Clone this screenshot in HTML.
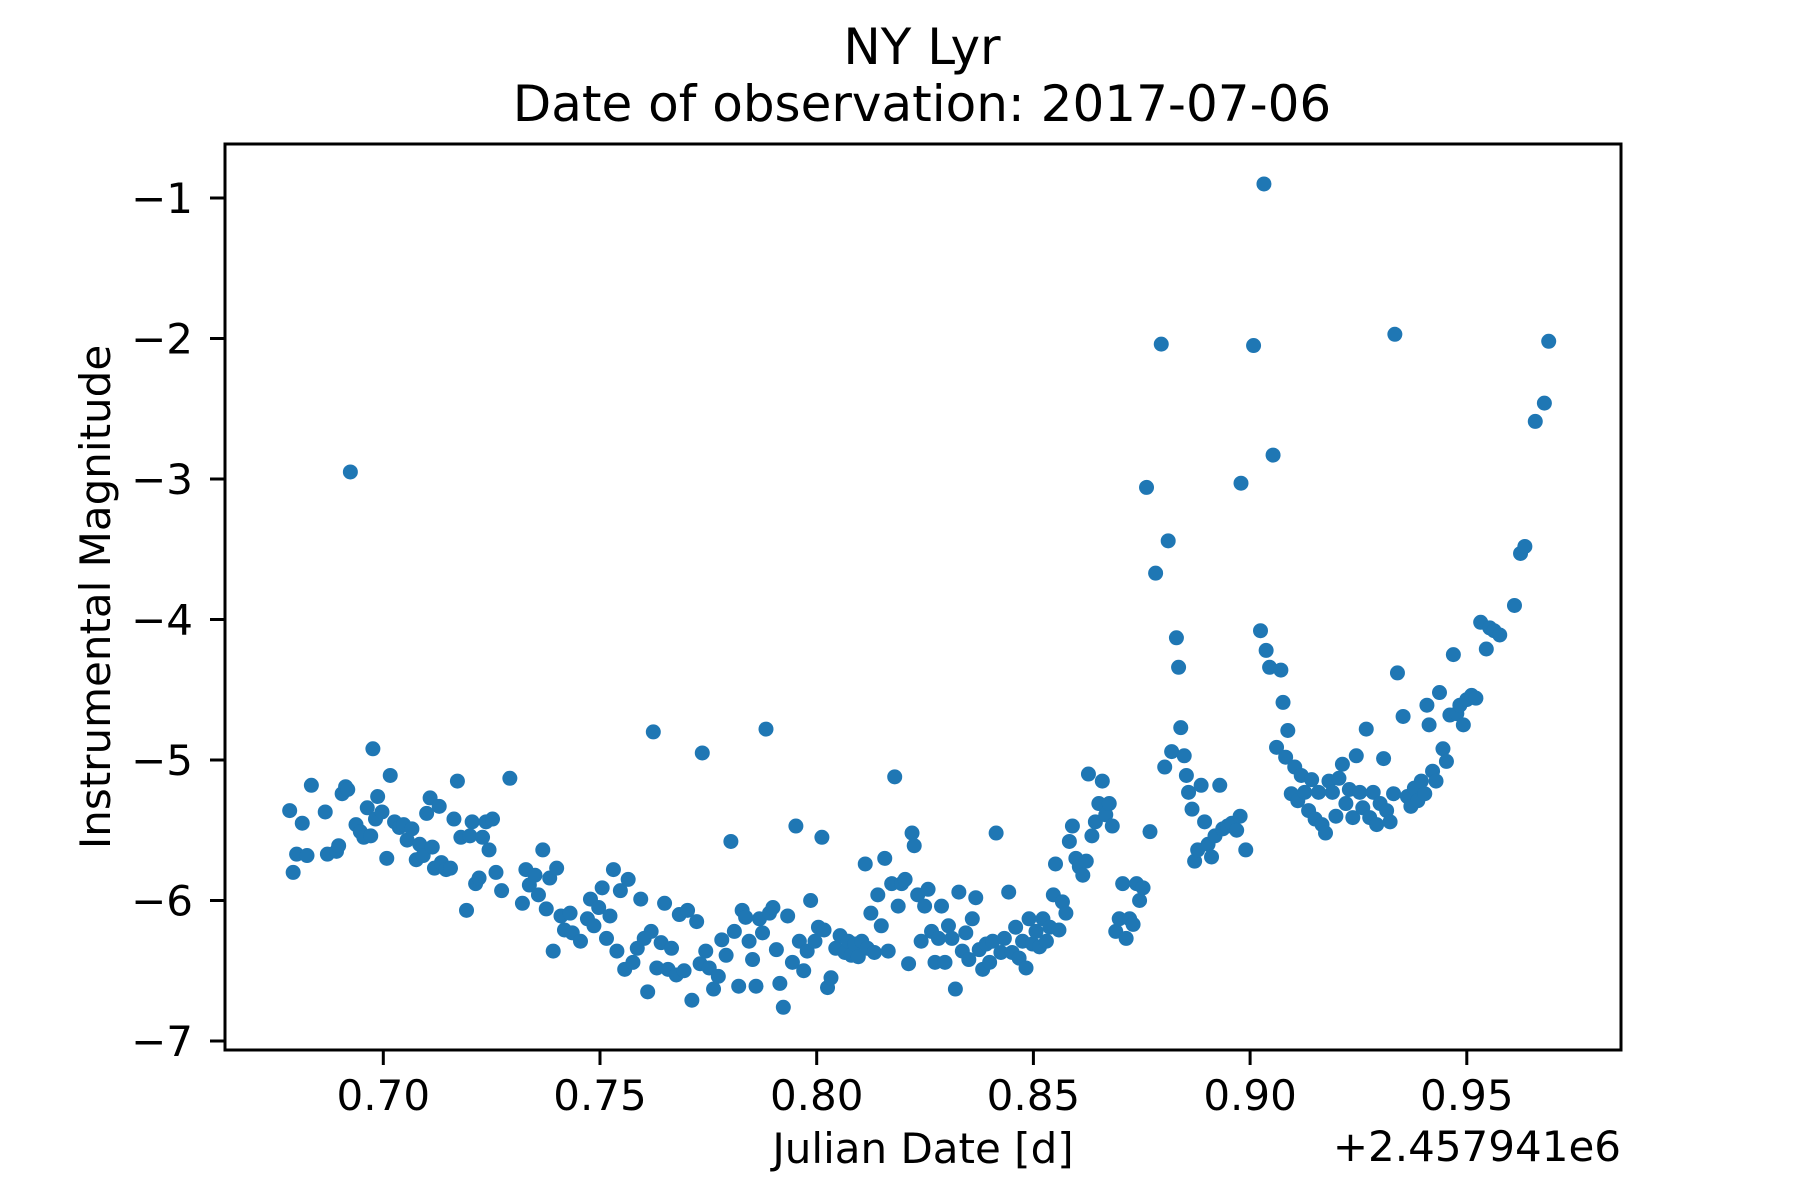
<!DOCTYPE html>
<html><head><meta charset="utf-8"><style>
html,body{margin:0;padding:0;background:#fff}
svg{display:block;font-family:"DejaVu Sans","Liberation Sans",sans-serif}
</style></head><body>
<svg id="chart" width="1800" height="1200" viewBox="0 0 1800 1200">
<rect width="1800" height="1200" fill="#fff"/>
<text x="922" y="64" font-size="50" text-anchor="middle">NY Lyr</text>
<text x="922" y="121" font-size="50" text-anchor="middle">Date of observation: 2017-07-06</text>
<g id="points"></g>
<g id="axes"></g>
<rect x="225" y="144" width="1396" height="906" fill="none" stroke="#000" stroke-width="3"/>
<text x="923" y="1163" font-size="42" text-anchor="middle">Julian Date [d]</text>
<text x="1621" y="1161" font-size="42" text-anchor="end">+2.457941e6</text>
<text transform="translate(110,597) rotate(-90)" font-size="42" text-anchor="middle">Instrumental Magnitude</text>
</svg>
<script>
const xTicks=[0.70,0.75,0.80,0.85,0.90,0.95];
const xTickLabels=["0.70","0.75","0.80","0.85","0.90","0.95"];
const yTicks=[-1,-2,-3,-4,-5,-6,-7];
const yTickLabels=["\u22121","\u22122","\u22123","\u22124","\u22125","\u22126","\u22127"];
const jd=[0.6784,0.6792,0.680,0.6813,0.6824,0.6834,0.6866,0.6871,0.6892,0.6897,0.6905,0.6913,0.6918,0.6924,0.6937,0.6947,0.6955,0.6963,0.6971,0.6976,0.6982,0.6987,0.6997,0.7008,0.7016,0.7026,0.7037,0.7047,0.7055,0.7066,0.7076,0.7084,0.7092,0.7100,0.7108,0.7113,0.7118,0.7129,0.7134,0.7145,0.7155,0.7163,0.7171,0.7179,0.7192,0.7200,0.7205,0.7213,0.7221,0.7229,0.7237,0.7244,0.7252,0.7260,0.7273,0.7292,0.7321,0.7329,0.7337,0.7350,0.7358,0.7368,0.7376,0.7384,0.7392,0.7400,0.7410,0.7418,0.7431,0.7436,0.7455,0.7471,0.7478,0.7486,0.7497,0.7505,0.7515,0.7523,0.7531,0.7539,0.7547,0.7557,0.7565,0.7576,0.7586,0.7594,0.7602,0.7610,0.7618,0.7623,0.7631,0.7641,0.7649,0.7657,0.7665,0.7676,0.7683,0.7694,0.7702,0.7712,0.7723,0.7731,0.7736,0.7744,0.7752,0.7762,0.7773,0.7781,0.7791,0.7802,0.7810,0.7820,0.7828,0.7836,0.7844,0.7852,0.7860,0.7868,0.7875,0.7883,0.7891,0.7899,0.7907,0.7915,0.7923,0.7933,0.7944,0.7952,0.7960,0.7970,0.7978,0.7986,0.7996,0.8004,0.8012,0.8017,0.8025,0.8033,0.8044,0.8054,0.8065,0.8073,0.8080,0.8088,0.8096,0.8104,0.8112,0.8117,0.8125,0.8133,0.8141,0.8149,0.8157,0.8165,0.8173,0.8180,0.8188,0.8196,0.8204,0.8212,0.8220,0.8225,0.8233,0.8241,0.8249,0.8257,0.8265,0.8273,0.8281,0.8288,0.8296,0.8304,0.8312,0.8320,0.8328,0.8336,0.8344,0.8351,0.8359,0.8367,0.8375,0.8383,0.8391,0.8399,0.8406,0.8414,0.8425,0.8433,0.8443,0.8451,0.8459,0.8467,0.8475,0.8483,0.8490,0.8498,0.8506,0.8514,0.8522,0.8530,0.8538,0.8546,0.8551,0.8559,0.8567,0.8575,0.8583,0.8590,0.8598,0.8606,0.8614,0.8622,0.8627,0.8635,0.8643,0.8651,0.8659,0.8667,0.8675,0.8682,0.8690,0.8698,0.8706,0.8714,0.8722,0.8730,0.8738,0.8745,0.8753,0.8761,0.8769,0.8782,0.8795,0.8803,0.8811,0.8819,0.8830,0.8835,0.8840,0.8848,0.8853,0.8858,0.8866,0.8872,0.8879,0.8887,0.8895,0.8903,0.8911,0.8919,0.8930,0.8937,0.8948,0.8958,0.8969,0.8977,0.8979,0.8990,0.9008,0.9024,0.9032,0.9037,0.9045,0.9053,0.9061,0.9071,0.9076,0.9082,0.9087,0.9095,0.9103,0.9110,0.9118,0.9126,0.9135,0.9142,0.9150,0.9158,0.9166,0.9174,0.9182,0.9190,0.9198,0.9205,0.9213,0.9221,0.9229,0.9237,0.9245,0.9253,0.9260,0.9268,0.9276,0.9284,0.9292,0.9300,0.9308,0.9315,0.9323,0.9331,0.9334,0.9340,0.9353,0.9363,0.9371,0.9379,0.9387,0.9395,0.9403,0.9408,0.9413,0.9421,0.9429,0.9437,0.9445,0.9453,0.9461,0.9469,0.9477,0.9484,0.9492,0.9500,0.9511,0.9521,0.9532,0.9545,0.9553,0.9563,0.9576,0.9610,0.9624,0.9634,0.9658,0.9679,0.9689];
const mag=[-5.36,-5.80,-5.67,-5.45,-5.68,-5.18,-5.37,-5.67,-5.65,-5.61,-5.24,-5.19,-5.21,-2.95,-5.46,-5.51,-5.55,-5.34,-5.54,-4.92,-5.42,-5.26,-5.37,-5.70,-5.11,-5.44,-5.48,-5.46,-5.57,-5.49,-5.71,-5.60,-5.68,-5.38,-5.27,-5.62,-5.77,-5.33,-5.73,-5.78,-5.77,-5.42,-5.15,-5.55,-6.07,-5.54,-5.44,-5.88,-5.84,-5.55,-5.44,-5.64,-5.42,-5.80,-5.93,-5.13,-6.02,-5.78,-5.89,-5.82,-5.96,-5.64,-6.06,-5.84,-6.36,-5.77,-6.11,-6.21,-6.09,-6.23,-6.29,-6.13,-5.99,-6.18,-6.05,-5.91,-6.27,-6.11,-5.78,-6.36,-5.93,-6.49,-5.85,-6.44,-6.34,-5.99,-6.27,-6.65,-6.22,-4.80,-6.48,-6.30,-6.02,-6.49,-6.34,-6.53,-6.10,-6.50,-6.07,-6.71,-6.15,-6.45,-4.95,-6.36,-6.48,-6.63,-6.54,-6.28,-6.39,-5.58,-6.22,-6.61,-6.07,-6.12,-6.29,-6.42,-6.61,-6.13,-6.23,-4.78,-6.09,-6.05,-6.35,-6.59,-6.76,-6.11,-6.44,-5.47,-6.29,-6.50,-6.36,-6.00,-6.29,-6.19,-5.55,-6.21,-6.62,-6.55,-6.34,-6.25,-6.37,-6.29,-6.39,-6.31,-6.40,-6.29,-5.74,-6.34,-6.09,-6.37,-5.96,-6.18,-5.70,-6.36,-5.88,-5.12,-6.04,-5.88,-5.85,-6.45,-5.52,-5.61,-5.96,-6.29,-6.04,-5.92,-6.22,-6.44,-6.27,-6.04,-6.44,-6.18,-6.27,-6.63,-5.94,-6.36,-6.23,-6.42,-6.13,-5.98,-6.35,-6.49,-6.31,-6.44,-6.29,-5.52,-6.37,-6.27,-5.94,-6.37,-6.19,-6.41,-6.29,-6.48,-6.13,-6.31,-6.22,-6.33,-6.13,-6.29,-6.19,-5.96,-5.74,-6.21,-6.01,-6.09,-5.58,-5.47,-5.70,-5.76,-5.82,-5.72,-5.10,-5.54,-5.44,-5.31,-5.15,-5.39,-5.31,-5.47,-6.22,-6.13,-5.88,-6.27,-6.13,-6.17,-5.88,-6.00,-5.91,-3.06,-5.51,-3.67,-2.04,-5.05,-3.44,-4.94,-4.13,-4.34,-4.77,-4.97,-5.11,-5.23,-5.35,-5.72,-5.64,-5.18,-5.44,-5.60,-5.69,-5.54,-5.18,-5.49,-5.47,-5.45,-5.50,-5.40,-3.03,-5.64,-2.05,-4.08,-0.90,-4.22,-4.34,-2.83,-4.91,-4.36,-4.59,-4.98,-4.79,-5.24,-5.05,-5.29,-5.11,-5.23,-5.36,-5.14,-5.42,-5.23,-5.46,-5.52,-5.15,-5.23,-5.40,-5.13,-5.03,-5.31,-5.21,-5.41,-4.97,-5.23,-5.34,-4.78,-5.41,-5.23,-5.46,-5.31,-4.99,-5.36,-5.44,-5.24,-1.97,-4.38,-4.69,-5.26,-5.33,-5.20,-5.29,-5.15,-5.24,-4.61,-4.75,-5.08,-5.15,-4.52,-4.92,-5.01,-4.68,-4.25,-4.67,-4.61,-4.75,-4.57,-4.54,-4.56,-4.02,-4.21,-4.06,-4.08,-4.11,-3.90,-3.53,-3.48,-2.59,-2.46,-2.02];

const NS="http://www.w3.org/2000/svg";
function xScale(v){return 383.3+(v-0.70)*(216.7/0.05);}
function yScale(v){return 198+(-1-v)*140.5;}
const pg=document.getElementById('points');
for(let i=0;i<jd.length;i++){
  const c=document.createElementNS(NS,'circle');
  c.setAttribute('cx',xScale(jd[i]));c.setAttribute('cy',yScale(mag[i]));
  c.setAttribute('r',7.5);c.setAttribute('fill','#1f77b4');
  
  
  pg.appendChild(c);
}
const ag=document.getElementById('axes');
xTicks.forEach((t,i)=>{
  const x=xScale(t);
  const l=document.createElementNS(NS,'line');
  l.setAttribute('x1',x);l.setAttribute('x2',x);l.setAttribute('y1',1050);l.setAttribute('y2',1065);
  l.setAttribute('stroke','#000');l.setAttribute('stroke-width',3);
  
  
  ag.appendChild(l);
  const tx=document.createElementNS(NS,'text');
  tx.setAttribute('x',x);tx.setAttribute('y',1110);tx.setAttribute('font-size',42);tx.setAttribute('text-anchor','middle');
  tx.textContent=xTickLabels[i];
  
  
  ag.appendChild(tx);
});
yTicks.forEach((t,i)=>{
  const y=yScale(t);
  const l=document.createElementNS(NS,'line');
  l.setAttribute('x1',210);l.setAttribute('x2',225);l.setAttribute('y1',y);l.setAttribute('y2',y);
  l.setAttribute('stroke','#000');l.setAttribute('stroke-width',3);
  
  
  ag.appendChild(l);
  const tx=document.createElementNS(NS,'text');
  tx.setAttribute('x',193);tx.setAttribute('y',y+15);tx.setAttribute('font-size',42);tx.setAttribute('text-anchor','end');
  tx.textContent=yTickLabels[i];
  
  
  ag.appendChild(tx);
});
</script>
</body></html>
